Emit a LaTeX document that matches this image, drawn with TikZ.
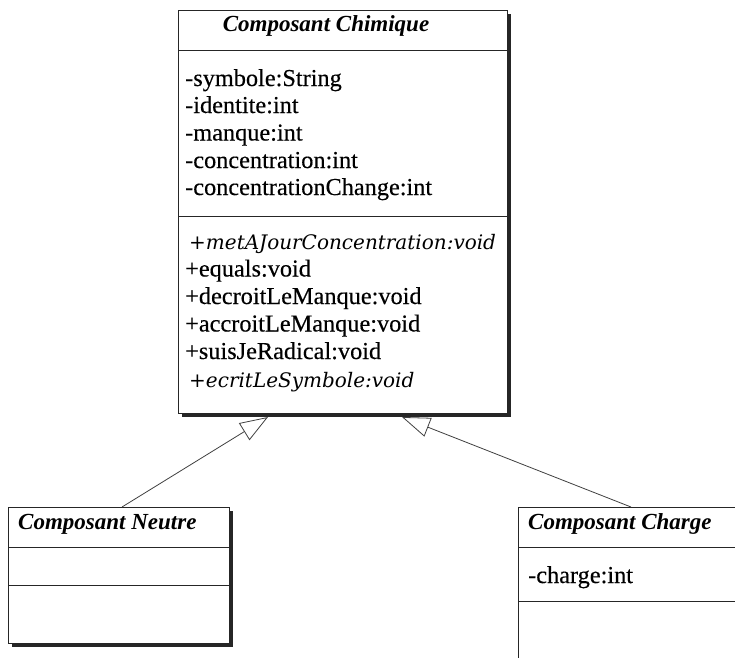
\documentclass[tikz,border=0pt]{standalone}
\usepackage{fontspec}
\setmainfont{Liberation Serif}
\newfontfamily\attrfont{Liberation Serif}[FakeBold=0.35]
\newfontfamily\methfont{DejaVu Serif}
\usetikzlibrary{arrows.meta}
\begin{document}
\begin{tikzpicture}[x=1pt,y=-1pt,
  box/.style={draw=black!85, line width=1pt, fill=white, anchor=north west, inner sep=0pt},
  shadowbox/.style={fill=black!85},
  sep/.style={draw=black!85, line width=1pt},
  ttl/.style={font=\fontsize{23}{23}\selectfont\bfseries\itshape, inner sep=0pt},
  attr/.style={font=\attrfont\fontsize{24.3}{27}\selectfont, anchor=base west, inner sep=0pt},
  meth/.style={font=\methfont\itshape\fontsize{20}{27}\selectfont, anchor=base west, inner sep=0pt},
  inh/.style={draw=black!75, line width=0.8pt, -{Triangle[open, length=28pt, width=20pt, fill=white]}}
]
\useasboundingbox (0,0) rectangle (735,657);
\clip (0,0) rectangle (735,657);
\fill[white] (0,0) rectangle (735,657);

% main class
\fill[shadowbox] (182,14) rectangle (511,417);
\node[box, minimum width=329pt, minimum height=403pt] (cc) at (178,10) {};
\draw[sep] (178,50) -- (507,50);
\draw[sep] (178,216) -- (507,216);
\node[ttl, anchor=base] (cct) at (326,31) {Composant Chimique};
\node[attr] (a1) at (185,86) {-symbole:String};
\node[attr] (a2) at (185,113) {-identite:int};
\node[attr] (a3) at (185,140.5) {-manque:int};
\node[attr] (a4) at (185,168) {-concentration:int};
\node[attr] (a5) at (185,195) {-concentrationChange:int};
\node[meth] (m1) at (189,249) {+metAJourConcentration:void};
\node[attr] (m2) at (185,276.5) {+equals:void};
\node[attr] (m3) at (185,304) {+decroitLeManque:void};
\node[attr] (m4) at (185,331.5) {+accroitLeManque:void};
\node[attr] (m5) at (185,359) {+suisJeRadical:void};
\node[meth] (m6) at (189,387) {+ecritLeSymbole:void};

% left class
\fill[shadowbox] (12,511) rectangle (233,647);
\node[box, minimum width=221pt, minimum height=136pt] (cn) at (8,507) {};
\draw[sep] (8,547) -- (229,547);
\draw[sep] (8,585) -- (229,585);
\node[ttl, anchor=base west] (cnt) at (18,529) {Composant Neutre};

% right class
\node[box, minimum width=300pt, minimum height=200pt] (ch) at (518,507) {};
\draw[sep] (518,547) -- (818,547);
\draw[sep] (518,601) -- (818,601);
\node[ttl, anchor=base west] (cht) at (528,529) {Composant Charge};
\node[attr] (c1) at (528,583) {-charge:int};

% inheritance
\coordinate (s1) at (122,507);
\coordinate (t1) at (268,417);
\coordinate (s2) at (631,507);
\coordinate (t2) at (402,417);
\draw[inh] (s1) -- (t1);
\draw[inh] (s2) -- (t2);
\end{tikzpicture}
\end{document}
